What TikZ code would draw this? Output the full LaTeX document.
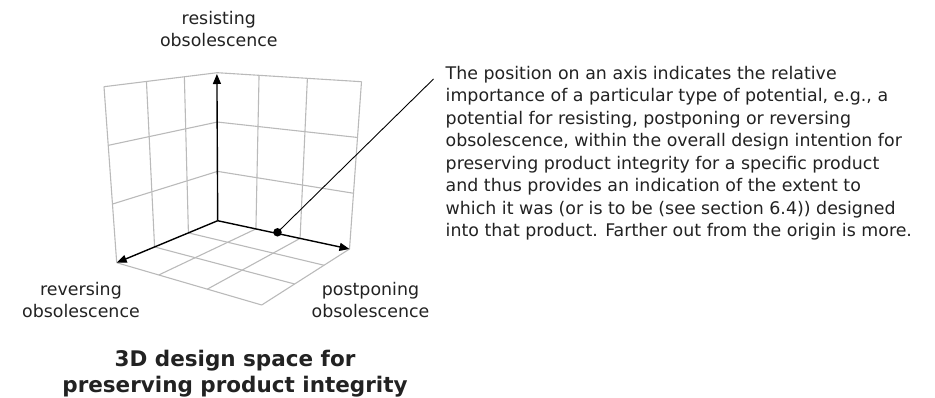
\documentclass[tikz,border=0pt]{standalone}
\usepackage{fontspec}
\setmainfont{DejaVu Sans}
\usetikzlibrary{arrows.meta,calc}
\definecolor{txt}{HTML}{222222}
\begin{document}
\begin{tikzpicture}[x=1pt,y=-1pt,
  gridline/.style={draw=black!27, line width=1.1pt},
  axisline/.style={draw=black, line width=1.4pt, -{Triangle[length=10pt,width=8pt]}},
  lbl/.style={align=center, font=\fontsize{17.4}{21.7}\selectfont, text=txt, inner sep=0pt},
  paratext/.style={align=left, font=\fontsize{17.4}{22.5}\selectfont, text=txt, inner sep=0pt},
  titletext/.style={align=center, font=\fontsize{21.5}{26}\selectfont\bfseries, text=txt, inner sep=0pt},
  ]
\useasboundingbox (0,0) rectangle (935,397);
% corners
\coordinate (O) at (217.7,220.7);
\coordinate (Ot) at (217.2,72.7);
\coordinate (L) at (116.7,262.7);
\coordinate (Lt) at (104,86.7);
\coordinate (R) at (349.5,249);
\coordinate (Rt) at (361.5,81.7);
\coordinate (F) at (261.7,305);
\coordinate (Ztip) at (216.9,74);
% grid: walls and floor
\foreach \u in {0.29,0.625,1}{
  \draw[gridline] ($(O)!\u!(L)$) -- ($(Ot)!\u!(Lt)$);
  \draw[gridline] ($(O)!\u!(R)$) -- ($(Ot)!\u!(Rt)$);
  \draw[gridline] ($(O)!\u!(R)$) -- ($(L)!\u!(F)$);
  \draw[gridline] ($(O)!\u!(L)$) -- ($(R)!\u!(F)$);
}
\foreach \v in {0.3333,0.6667,1}{
  \draw[gridline] ($(O)!\v!(Ot)$) -- ($(L)!\v!(Lt)$);
  \draw[gridline] ($(O)!\v!(Ot)$) -- ($(R)!\v!(Rt)$);
}
% axes
\draw[axisline] (O) -- (Ztip);
\draw[axisline] (O) -- (L);
\draw[axisline] (O) -- (R);
% dot and leader
\node[circle, fill=black, inner sep=0pt, minimum size=8.5pt] (dot) at (277.5,232.3) {};
\coordinate (lead) at (433.5,79);
\draw[line width=0.9pt] (dot.center) -- (lead);
% labels
\node[lbl] (zlab) at (218.8,29.2) {resisting\\obsolescence};
\node[lbl] (xlab) at (81,299.7) {reversing\\obsolescence};
\node[lbl] (ylab) at (370.5,299.7) {postponing\\obsolescence};
\node[titletext] (title) at (235,374) {3D design space for\\preserving product integrity};
\node[paratext, anchor=north west] (para) at (445.5,66) {The position on an axis indicates the relative\\
importance of a particular type of potential, e.g., a\\
potential for resisting, postponing or reversing\\
obsolescence, within the overall design intention for\\
preserving product integrity for a specific product\\
and thus provides an indication of the extent to\\
which it was (or is to be (see section 6.4)) designed\\
into that product. Farther out from the origin is more.};
\end{tikzpicture}
\end{document}
